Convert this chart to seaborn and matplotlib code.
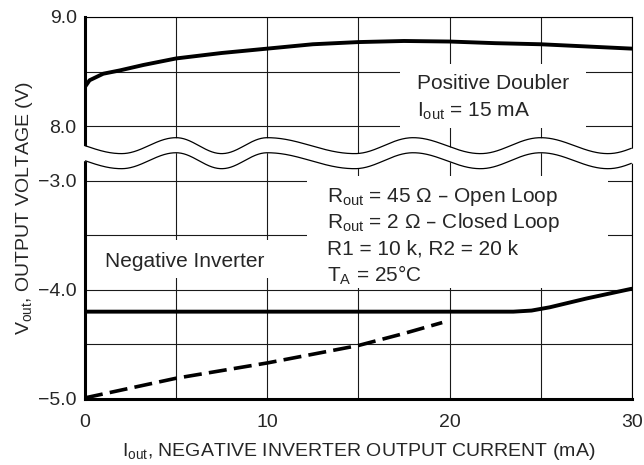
import numpy as np
import matplotlib
matplotlib.use('Agg')
import matplotlib.pyplot as plt
import seaborn as sns
from matplotlib.patches import Rectangle

# Positive doubler output (upper section, volts)
doubler_i = [0, 0.25, 1, 1.9, 3.2, 5, 7.5, 10, 12.5, 15, 17.5, 20, 22.5, 25, 27.5, 30]
doubler_v = [8.36, 8.42, 8.48, 8.51, 8.56, 8.62, 8.67, 8.71, 8.75, 8.77, 8.78, 8.775,
             8.76, 8.75, 8.73, 8.71]

# Negative inverter, closed loop (solid)
closed_i = [0, 5, 10, 15, 20, 23.5, 24.5, 25.5, 27.5, 30]
closed_v = [-4.20, -4.20, -4.20, -4.20, -4.20, -4.20, -4.19, -4.16, -4.08, -3.99]

# Negative inverter, open loop (dashed)
open_i = [0, 5, 10, 15, 17.5, 19.6]
open_v = [-4.99, -4.81, -4.67, -4.51, -4.40, -4.30]

x_major = [0, 10, 20, 30]
x_minor = [5, 15, 25]
low_major = [-5.0, -4.0, -3.0]
low_minor = [-4.5, -3.5]
high_major = [8.0, 9.0]
high_minor = [8.5]

# the upper section is drawn shifted down so 8.0 sits half a division above -3.0
OFFSET = 10.5


def top(v):
    return np.asarray(v, dtype=float) - OFFSET


sns.set_style('white')
plt.rcParams['font.family'] = ['Liberation Sans', 'DejaVu Sans']
plt.rcParams['mathtext.default'] = 'regular'
FS = 14
FS_NOTE = 15

fig = plt.figure(figsize=(6.44, 4.65), dpi=100)
ax = fig.add_axes([0.132, 0.142, 0.849, 0.8215])

sns.lineplot(x=doubler_i, y=top(doubler_v), color='black', lw=2.8, estimator=None, ax=ax)
sns.lineplot(x=closed_i, y=closed_v, color='black', lw=2.8, estimator=None, ax=ax)
sns.lineplot(x=open_i, y=open_v, color='black', lw=2.6, estimator=None,
             linestyle=(0, (5, 2)), ax=ax)

ax.set_xlim(0, 30)
ax.set_ylim(-5.0, top(9.0))

ax.set_xticks(x_major)
ax.set_xticks(x_minor, minor=True)
ax.set_xticklabels([str(t) for t in x_major], fontsize=FS)
ymaj = list(low_major) + list(top(high_major))
ax.set_yticks(ymaj)
ax.set_yticks(list(low_minor) + list(top(high_minor)), minor=True)
ax.set_yticklabels(['\u2212%.1f' % abs(v) for v in low_major] + ['%.1f' % v for v in high_major],
                   fontsize=FS)
ax.tick_params(which='both', length=0)
ax.tick_params(axis='y', pad=6)
ax.tick_params(axis='x', pad=11)
ax.grid(True, which='both', color='#1a1a1a', lw=0.8)

for side in ['left', 'bottom']:
    ax.spines[side].set_linewidth(2.2)
for side in ['top', 'right']:
    ax.spines[side].set_linewidth(0.8)
for s in ax.spines.values():
    s.set_color('black')

# axis break: two wavy lines with a white band between them
wave_i = np.linspace(-0.4, 30.4, 800)
key_i = [0, 2.0, 5.0, 7.5, 10.0, 14.8, 18.0, 21.7, 25.0, 28.7, 30]
key_ph = np.pi * np.array([0.5, 1, 2, 3, 4, 5, 6, 7, 8, 9, 9.4])
phase = np.interp(wave_i, key_i, key_ph)
upper = -2.679 + 0.073 * np.cos(phase)
lower = upper - 0.138
ax.fill_between(wave_i, lower, upper, color='white', lw=0, zorder=2.6, clip_on=False)
inside = (wave_i >= 0) & (wave_i <= 30)
ax.plot(wave_i[inside], upper[inside], color='black', lw=0.9, zorder=2.7)
ax.plot(wave_i[inside], lower[inside], color='black', lw=0.9, zorder=2.7)

# white areas behind the labels
for (x0, x1, y0, y1) in [(17.3, 27.5, top(7.985), top(8.565)),
                         (12.2, 28.7, -3.98, -2.96),
                         (0.8, 10.3, -3.89, -3.54)]:
    ax.add_patch(Rectangle((x0, y0), x1 - x0, y1 - y0, facecolor='white',
                           edgecolor='none', zorder=1.8))

ax.text(18.2, top(8.339), 'Positive Doubler', fontsize=FS_NOTE, va='baseline', zorder=4)
ax.text(18.2, top(8.083), 'I$_{out}$ = 15 mA', fontsize=FS_NOTE, va='baseline', zorder=4)
ax.text(1.1, -3.789, 'Negative Inverter', fontsize=FS_NOTE, va='baseline', zorder=4)
r_lines = ['R$_{out}$ = 45 \u03a9 \u2013 Open Loop',
           'R$_{out}$ = 2 \u03a9 \u2013 Closed Loop',
           'R1 = 10 k, R2 = 20 k',
           'T$_{A}$ = 25\u00b0C']
r_base = [-3.193, -3.431, -3.679, -3.927]
for s, yb in zip(r_lines, r_base):
    ax.text(13.27, yb, s, fontsize=FS_NOTE, va='baseline', zorder=4)

ax.set_xlabel('I$_{out}$, NEGATIVE INVERTER OUTPUT CURRENT (mA)', fontsize=FS, labelpad=7)
ax.set_ylabel('V$_{out}$, OUTPUT VOLTAGE (V)', fontsize=FS, labelpad=2)

fig.savefig('out.png', dpi=100)
